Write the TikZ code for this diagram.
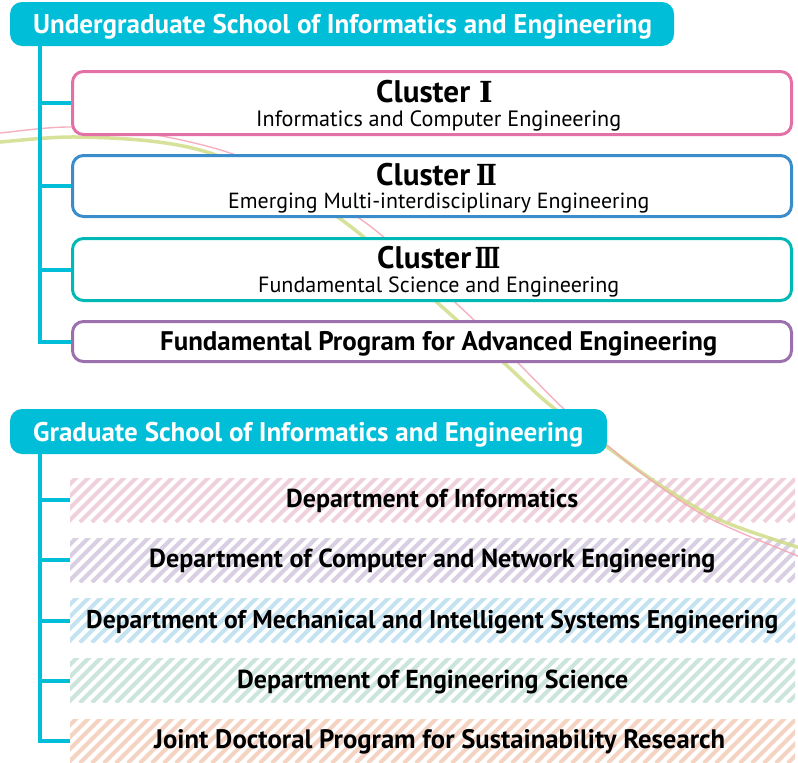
\documentclass[tikz,border=0pt]{standalone}
\usepackage{fontspec}
\setmainfont{PT Sans}
\newfontfamily\numfont{DejaVu Serif}
\usepackage{graphicx}
\definecolor{hdrc}{HTML}{00BED8}
\definecolor{pinkc}{HTML}{E470A8}
\definecolor{bluec}{HTML}{3A8DCA}
\definecolor{tealc}{HTML}{00B9B6}
\definecolor{purc}{HTML}{9B70AD}
\definecolor{stpink}{HTML}{EFD1DD}
\definecolor{stpur}{HTML}{D9CFE3}
\definecolor{stblue}{HTML}{C4E3F1}
\definecolor{stgreen}{HTML}{CBE5DC}
\definecolor{storange}{HTML}{F5D3C3}
\definecolor{cvgreen}{HTML}{D0DC88}
\definecolor{cvpink}{HTML}{F5A3B3}
\newcommand{\fitw}[2]{\resizebox{#1pt}{!}{#2}}
\newcommand{\numr}[2]{\scalebox{#1}[1]{\numfont\bfseries\fontsize{29pt}{29pt}\selectfont #2}}
\begin{document}
\begin{tikzpicture}[x=1pt,y=-1pt,
  hdrbox/.style={fill=hdrc, rounded corners=12pt, inner sep=0pt},
  hdrtxt/.style={text=white, font=\bfseries, inner sep=0pt, anchor=base west},
  cbox/.style={draw=#1, fill=white, line width=3pt, rounded corners=11pt, minimum width=719pt, inner sep=0pt},
  ctitle/.style={font=\bfseries, inner sep=0pt, anchor=base west},
  csub/.style={inner sep=0pt, anchor=base west},
  numtxt/.style={inner sep=0pt, anchor=base},
  spine/.style={draw=hdrc, line width=4pt, line join=miter},
  dbox/.style={minimum width=725pt, minimum height=44pt, inner sep=0pt,
    path picture={\foreach \i in {0,...,66}{\draw[line width=4.2pt, #1]
      ([xshift={\i*12pt-50pt}]path picture bounding box.south west) -- ++(50pt,50pt);}}},
  dtxt/.style={font=\bfseries, inner sep=0pt, anchor=base west},
  curve/.style={line width=#1, opacity=0.85}
]
\useasboundingbox (0,0) rectangle (798,763);
\fill[white] (0,0) rectangle (798,763);

% graduate departments (hatched)
\node[dbox=stpink]   (d1) at (432.5,500) {};
\node[dbox=stpur]    (d2) at (432.5,560.25) {};
\node[dbox=stblue]   (d3) at (432.5,620.5) {};
\node[dbox=stgreen]  (d4) at (432.5,680.75) {};
\node[dbox=storange] (d5) at (432.5,741) {};

% background curves
\begin{scope}
\clip (0,0) rectangle (798,763);
\draw[curve=3.5pt, cvgreen] plot[smooth, tension=0.55] coordinates {(-10,143) (0,142) (70,137) (150,141) (210,153) (280,183) (350,226) (440,305) (503,362) (550,405) (607,447) (660,485) (720,520) (800,548) (810,551)};
\draw[curve=1.4pt, cvpink] plot[smooth, tension=0.55] coordinates {(-10,134) (0,133) (70,127) (150,134) (230,153) (300,185) (370,226) (458,305) (517,362) (565,410) (607,445) (640,472) (707,517) (800,557) (810,561)};
\end{scope}

% headers
\node[hdrbox, minimum width=664pt, minimum height=44pt] (h1) at (342,24) {};
\node[hdrtxt] (h1t) at (33,33) {\fitw{619}{Undergraduate School of Informatics and Engineering}};
\node[hdrbox, minimum width=597pt, minimum height=45pt] (h2) at (308.5,431.5) {};
\node[hdrtxt] (h2t) at (33,441) {\fitw{550}{Graduate School of Informatics and Engineering}};

% clusters
\node[cbox=pinkc, minimum height=63pt] (c1) at (432,103) {};
\node[cbox=bluec, minimum height=61pt] (c2) at (432,186) {};
\node[cbox=tealc, minimum height=62pt] (c3) at (432,269.5) {};
\node[cbox=purc, minimum height=40pt] (c4) at (432,341.5) {};

\node[ctitle] (c1t) at (376,102) {\fitw{94}{Cluster}};
\node[numtxt] (c1n) at (486,102) {\numr{1}{Ⅰ}};
\node[csub] (c1s) at (256,126) {\fitw{365}{Informatics and Computer Engineering}};

\node[ctitle] (c2t) at (376,185) {\fitw{94}{Cluster}};
\node[numtxt] (c2n) at (486.5,185) {\numr{0.85}{Ⅱ}};
\node[csub] (c2s) at (228,208) {\fitw{421}{Emerging Multi-interdisciplinary Engineering}};

\node[ctitle] (c3t) at (377,268) {\fitw{94}{Cluster}};
\node[numtxt] (c3n) at (487.5,268) {\numr{0.72}{Ⅲ}};
\node[csub] (c3s) at (258,292) {\fitw{361}{Fundamental Science and Engineering}};

\node[ctitle] (c4t) at (160,350) {\fitw{557}{Fundamental Program for Advanced Engineering}};

% department texts
\node[dtxt] (d1t) at (286,507) {\fitw{292}{Department of Informatics}};
\node[dtxt] (d2t) at (149,567) {\fitw{566}{Department of Computer and Network Engineering}};
\node[dtxt] (d3t) at (86,628) {\fitw{692}{Department of Mechanical and Intelligent Systems Engineering}};
\node[dtxt] (d4t) at (237,688) {\fitw{391}{Department of Engineering Science}};
\node[dtxt] (d5t) at (154,748) {\fitw{571}{Joint Doctoral Program for Sustainability Research}};

% tree connectors
\coordinate (s1) at (39.5,46);
\draw[spine] (s1) |- (c4.west);
\foreach \n in {c1,c2,c3} \draw[spine] (s1 |- \n.west) -- (\n.west);
\coordinate (s2) at (39.5,454);
\draw[spine] (s2) |- (d5.west);
\foreach \n in {d1,d2,d3,d4} \draw[spine] (s2 |- \n.west) -- (\n.west);
\end{tikzpicture}
\end{document}
